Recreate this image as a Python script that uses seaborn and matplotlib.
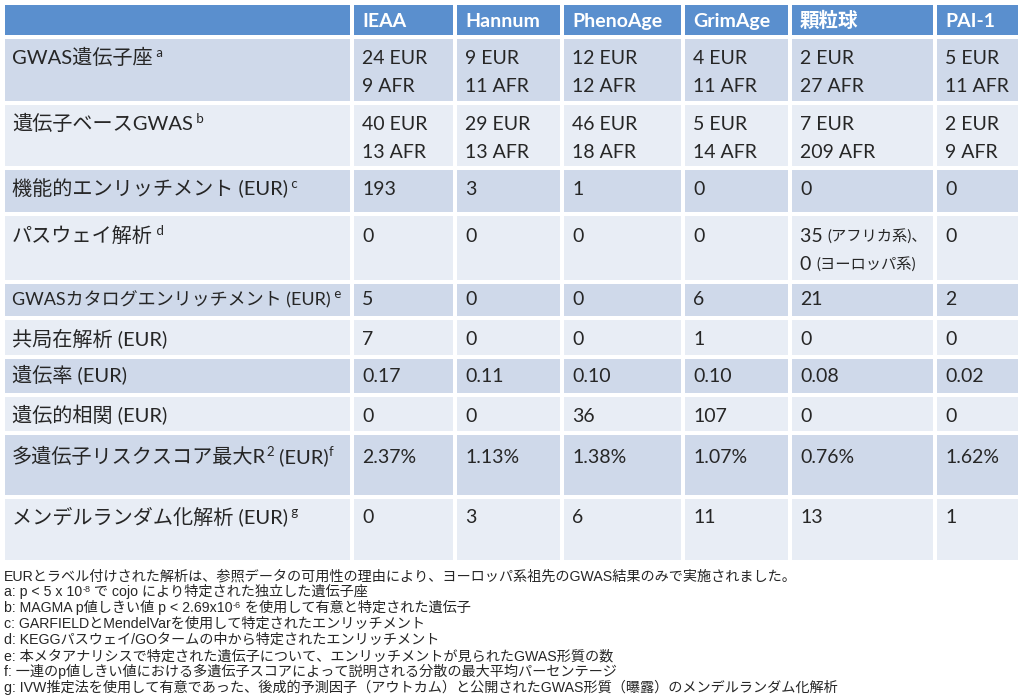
import numpy as np
import matplotlib
matplotlib.use("Agg")
import matplotlib.pyplot as plt
from matplotlib.colors import ListedColormap
import seaborn as sns

# table content
methods = ["IEAA", "Hannum", "PhenoAge", "GrimAge", "顆粒球", "PAI-1"]
row_names = ["GWAS遺伝子座", "遺伝子ベースGWAS", "機能的エンリッチメント (EUR)", "パスウェイ解析",
             "GWASカタログエンリッチメント (EUR)", "共局在解析 (EUR)", "遺伝率 (EUR)",
             "遺伝的相関 (EUR)", "多遺伝子リスクスコア最大R", "メンデルランダム化解析 (EUR)"]
row_marks = ["a", "b", "c", "d", "e", "", "", "", "f", "g"]

gwas_loci_eur = [24, 9, 12, 4, 2, 5]
gwas_loci_afr = [9, 11, 12, 11, 27, 11]
gene_gwas_eur = [40, 29, 46, 5, 7, 2]
gene_gwas_afr = [13, 13, 18, 14, 209, 9]
func_enrich = [193, 3, 1, 0, 0, 0]
pathway_afr = [0, 0, 0, 0, 35, 0]
pathway_eur = [0, 0, 0, 0, 0, 0]
gwas_catalog = [5, 0, 0, 6, 21, 2]
coloc = [7, 0, 0, 1, 0, 0]
heritability = [0.17, 0.11, 0.10, 0.10, 0.08, 0.02]
genetic_corr = [0, 0, 36, 107, 0, 0]
prs_r2 = [2.37, 1.13, 1.38, 1.07, 0.76, 1.62]
mr_hits = [0, 3, 6, 11, 13, 1]

notes = [
    [("EURとラベル付けされた解析は、参照データの可用性の理由により、ヨーロッパ系祖先のGWAS結果のみで実施されました。", 0)],
    [("a: p < 5 x 10", 0), ("-8", 1), (" で cojo により特定された独立した遺伝子座", 0)],
    [("b: MAGMA p値しきい値 p < 2.69x10", 0), ("-6", 1), (" を使用して有意と特定された遺伝子", 0)],
    [("c: GARFIELDとMendelVarを使用して特定されたエンリッチメント", 0)],
    [("d: KEGGパスウェイ/GOタームの中から特定されたエンリッチメント", 0)],
    [("e: 本メタアナリシスで特定された遺伝子について、エンリッチメントが見られたGWAS形質の数", 0)],
    [("f: 一連のp値しきい値における多遺伝子スコアによって説明される分散の最大平均パーセンテージ", 0)],
    [("g: IVW推定法を使用して有意であった、後成的予測因子（アウトカム）と公開されたGWAS形質（曝露）のメンデルランダム化解析", 0)],
]

# layout (pixels)
W, H = 1024, 695
col_edges = [3, 352, 455, 562, 683, 790, 935, 1020]
row_edges = [3, 37, 103, 168, 214, 282, 318, 357, 395, 433, 497, 562]
text_dy = [27, 27, 27, 28, 23, 27, 25, 27, 30, 26]
label_size = [14.5, 14.5, 14.5, 14.5, 13, 14.5, 14.5, 14.5, 14.5, 14.5]
line_gap = 28

sns.set_theme(style="white")
plt.rcParams["font.family"] = ["Lato", "Noto Sans CJK JP"]
cjk = ["Lato", "Noto Sans CJK JP"]
note_font = ["Liberation Sans Narrow", "Liberation Sans", "Noto Sans CJK JP"]

fig = plt.figure(figsize=(W / 100, H / 100), dpi=100)
fig.patch.set_facecolor("white")

# cell backgrounds: seaborn heatmap on a piecewise-linear scale
nrow, ncol = len(row_names) + 1, len(methods) + 1
bands = np.array([[0] * ncol] + [[1 + (r % 2)] * ncol for r in range(nrow - 1)])
cmap = ListedColormap(["#5a8fce", "#cfd9ea", "#e8edf5"])

x0, x1 = col_edges[0], col_edges[-1]
y0, y1 = row_edges[0], row_edges[-1]
bg = fig.add_axes([x0 / W, 1 - y1 / H, (x1 - x0) / W, (y1 - y0) / H])
sns.heatmap(bands, ax=bg, cmap=cmap, vmin=-0.5, vmax=2.5, cbar=False,
            linewidths=1.5, linecolor="white", xticklabels=False, yticklabels=False)
ci = np.arange(ncol + 1)
ri = np.arange(nrow + 1)
cx = np.array(col_edges, dtype=float)
ry = np.array(row_edges, dtype=float)
bg.set_xscale("function", functions=(lambda v: np.interp(v, ci, cx), lambda p: np.interp(p, cx, ci)))
bg.set_yscale("function", functions=(lambda v: np.interp(v, ri, ry), lambda p: np.interp(p, ry, ri)))
bg.set_xlim(0, ncol)
bg.set_ylim(nrow, 0)
bg.axis("off")

# text overlay in pixel coordinates
ax = fig.add_axes([0, 0, 1, 1])
ax.set_xlim(0, W)
ax.set_ylim(H, 0)
ax.axis("off")
ax.patch.set_alpha(0)
renderer = fig.canvas.get_renderer()


def put_runs(x, y, runs, size, family, sup_size=None, rise=7, **kw):
    sup_size = sup_size or size * 0.62
    for txt, is_sup in runs:
        t = ax.text(x, y - (rise if is_sup else 0), txt, fontsize=sup_size if is_sup else size,
                    family=family, ha="left", va="baseline", **kw)
        x += t.get_window_extent(renderer).width
    return x


# header
for j, m in enumerate(methods):
    put_runs(col_edges[j + 1] + 10, row_edges[0] + 24, [(m, 0)], 14, cjk,
             color="white", weight="bold")

# row labels
for i, name in enumerate(row_names):
    y = row_edges[i + 1] + text_dy[i]
    if name.endswith("R"):
        runs = [(name, 0), ("2", 1), (" (EUR)", 0), (row_marks[i], 1)]
    else:
        runs = [(name, 0)]
        if row_marks[i]:
            runs.append((" " + row_marks[i], 1))
    put_runs(12, y, runs, label_size[i], cjk, sup_size=9.5)

# data cells
cells = [
    [f"{e} EUR\n{a} AFR" for e, a in zip(gwas_loci_eur, gwas_loci_afr)],
    [f"{e} EUR\n{a} AFR" for e, a in zip(gene_gwas_eur, gene_gwas_afr)],
    [str(v) for v in func_enrich],
    None,
    [str(v) for v in gwas_catalog],
    [str(v) for v in coloc],
    [f"{v:.2f}" for v in heritability],
    [str(v) for v in genetic_corr],
    [f"{v:.2f}%" for v in prs_r2],
    [str(v) for v in mr_hits],
]
for i, row in enumerate(cells):
    y = row_edges[i + 1] + text_dy[i]
    for j in range(len(methods)):
        x = col_edges[j + 1] + 10
        if row is None:
            if pathway_afr[j] > 0:
                xe = put_runs(x, y, [(f"{pathway_afr[j]} ", 0)], 14, cjk)
                put_runs(xe, y, [("(アフリカ系)、", 0)], 11, cjk)
                xe = put_runs(x, y + line_gap, [(f"{pathway_eur[j]} ", 0)], 14, cjk)
                put_runs(xe, y + line_gap, [("(ヨーロッパ系)", 0)], 11, cjk)
            else:
                put_runs(x, y, [(str(pathway_afr[j]), 0)], 14, cjk)
            continue
        for k, line in enumerate(row[j].split("\n")):
            put_runs(x, y + k * line_gap, [(line, 0)], 14, cjk)

# footnotes
for k, runs in enumerate(notes):
    put_runs(4, 580 + k * 16, runs, 10.2, note_font, sup_size=6.5, rise=4)

fig.savefig("out.png", dpi=100, facecolor="white")
